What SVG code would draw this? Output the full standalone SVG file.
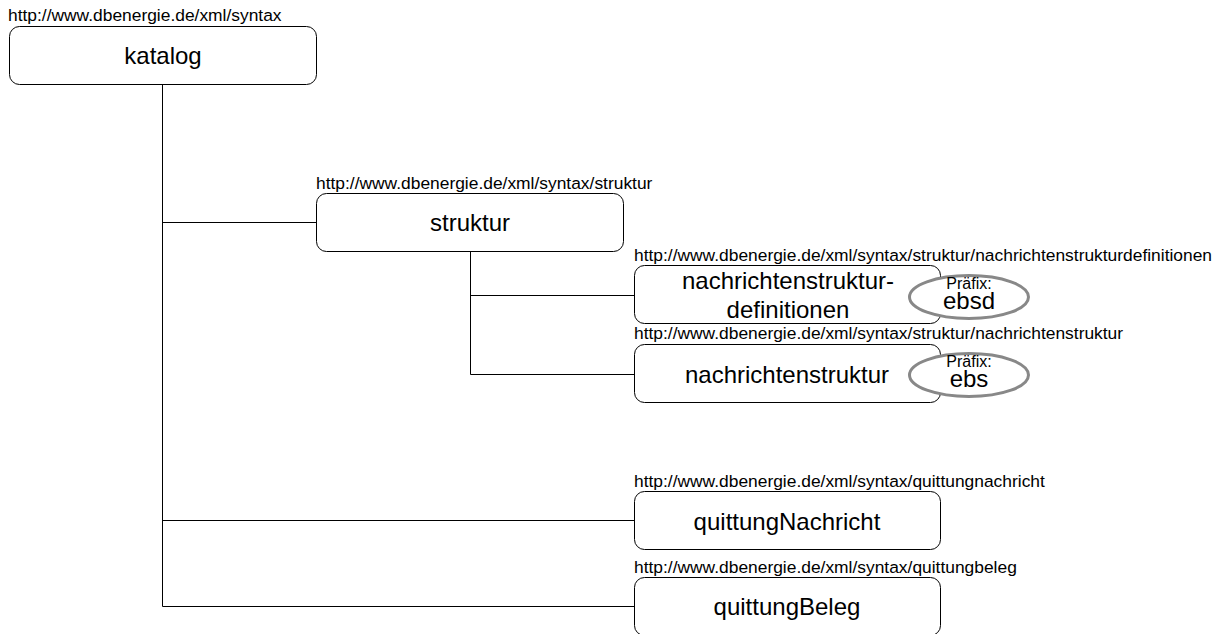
<svg xmlns="http://www.w3.org/2000/svg" width="1220" height="634" viewBox="0 0 1220 634">
<style>
.box{fill:#fff;stroke:#000;stroke-width:1}
.url{font-family:"Liberation Sans",Arial,sans-serif;font-size:17.4px;fill:#000}
.lbl{font-family:"Liberation Sans",Arial,sans-serif;font-size:24px;fill:#000;text-anchor:middle}
.pre{fill:#fff;stroke:#888;stroke-width:3}
.pt{font-family:"Liberation Sans",Arial,sans-serif;font-size:16px;fill:#000;text-anchor:middle}
.pv{font-family:"Liberation Sans",Arial,sans-serif;font-size:24px;fill:#000;text-anchor:middle}
.con{fill:none;stroke:#000;stroke-width:1}
</style>
<rect width="1220" height="634" fill="#fff"/>
<g id="connectors">
<path class="con" d="M162.5,85 V606.5 H634 M162.5,222.5 H316 M162.5,520.5 H634 M470.5,252 V374.5 H634 M470.5,295.5 H634"/>
</g>
<g id="katalog">
<text class="url" x="8" y="21">http://www.dbenergie.de/xml/syntax</text>
<rect class="box" x="9.5" y="26.5" width="307" height="58" rx="10"/>
<text class="lbl" x="163" y="64">katalog</text>
</g>
<g id="struktur">
<text class="url" x="316" y="189">http://www.dbenergie.de/xml/syntax/struktur</text>
<rect class="box" x="316.5" y="193.5" width="307" height="58" rx="10"/>
<text class="lbl" x="470" y="231">struktur</text>
</g>
<g id="nachrichtenstrukturdefinitionen">
<text class="url" x="634" y="261">http://www.dbenergie.de/xml/syntax/struktur/nachrichtenstrukturdefinitionen</text>
<rect class="box" x="634.5" y="265.5" width="306" height="58" rx="10"/>
<text class="lbl" x="788" y="289">nachrichtenstruktur-</text>
<text class="lbl" x="788" y="318">definitionen</text>
<ellipse class="pre" cx="969" cy="297" rx="59.5" ry="21.5"/>
<text class="pt" x="969" y="289">Präfix:</text>
<text class="pv" x="969" y="309">ebsd</text>
</g>
<g id="nachrichtenstruktur">
<text class="url" x="634" y="339">http://www.dbenergie.de/xml/syntax/struktur/nachrichtenstruktur</text>
<rect class="box" x="634.5" y="344.5" width="306" height="58" rx="10"/>
<text class="lbl" x="787" y="383">nachrichtenstruktur</text>
<ellipse class="pre" cx="969" cy="375" rx="59.5" ry="21.5"/>
<text class="pt" x="969" y="367">Präfix:</text>
<text class="pv" x="969" y="387">ebs</text>
</g>
<g id="quittungNachricht">
<text class="url" x="634" y="487">http://www.dbenergie.de/xml/syntax/quittungnachricht</text>
<rect class="box" x="634.5" y="491.5" width="306" height="58" rx="10"/>
<text class="lbl" x="787" y="530">quittungNachricht</text>
</g>
<g id="quittungBeleg">
<text class="url" x="634" y="573">http://www.dbenergie.de/xml/syntax/quittungbeleg</text>
<rect class="box" x="634.5" y="577.5" width="306" height="58" rx="10"/>
<text class="lbl" x="787" y="615">quittungBeleg</text>
</g>
</svg>
